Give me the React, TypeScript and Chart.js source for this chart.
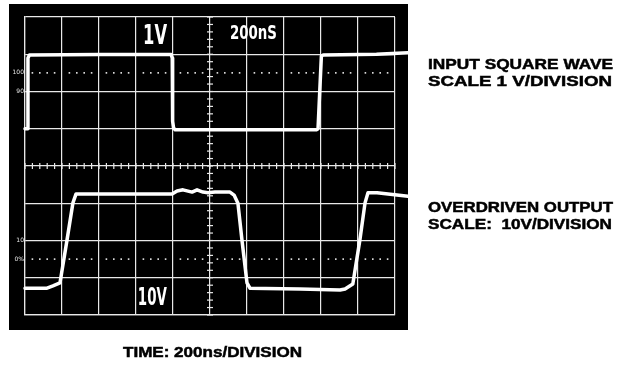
import React, { useEffect, useRef } from "react";
import { Chart, registerables } from "chart.js";

Chart.register(...registerables);

// Time axis: 200 ns per division, 10 divisions
const timeTicksNs = [0, 200, 400, 600, 800, 1000, 1200, 1400, 1600, 1800, 2000];
// Vertical: 8 divisions; input 1 V/div, output 10 V/div (relative to screen centre)
const inputTicksV = [-4, -3, -2, -1, 0, 1, 2, 3, 4];

// Input square wave (1 V/div)
const inputTimeNs = [0, 12, 16, 24, 400, 790, 796, 798, 803, 812, 1200, 1575, 1584, 1602, 1612, 1900, 2070];
const inputVolts = [1.0, 1.0, 2.9, 2.98, 2.99, 2.99, 2.9, 1.2, 1.02, 0.97, 0.97, 0.97, 1.0, 2.95, 2.98, 3.0, 3.04];

// Overdriven output (10 V/div)
const outputTimeNs = [0, 119, 151, 189, 227, 259, 276, 400, 600, 795, 822, 854, 903, 930, 962, 989, 1027, 1108, 1130, 1151, 1173, 1200, 1216, 1300, 1486, 1703, 1730, 1772, 1810, 1838, 1854, 1903, 2070];
const outputVolts = [-32.8, -32.8, -32.2, -31.4, -19.9, -9.9, -7.5, -7.5, -7.5, -7.5, -6.7, -6.4, -7.0, -6.4, -7.0, -7.2, -7.0, -7.0, -7.8, -10, -20, -31.4, -32.8, -32.9, -33.0, -33.3, -33.0, -31.7, -19.9, -9.9, -7.2, -7.2, -8.1];

// Reference-level marks on the graticule (in input-axis divisions)
const levelMarks = [2.5, -2.5];
const levelLabels = [
  { v: 2.5, t: "100" },
  { v: 2, t: "90" },
  { v: -2, t: "10" },
  { v: -2.5, t: "0%" },
];

const readouts = [
  { t: "1V", x: 3.19, y: 3.28, w: 24, font: 'bold 26px "DejaVu Sans"' },
  { t: "200nS", x: 5.54, y: 3.41, w: 47, font: 'bold 19px "DejaVu Sans"' },
  { t: "10V", x: 3.05, y: -3.73, w: 29, font: 'bold 25px "DejaVu Sans"' },
];

const sideLabels = [
  { t: "INPUT SQUARE WAVE", x: 428, y: 69, w: 185 },
  { t: "SCALE 1 V/DIVISION", x: 428, y: 86, w: 184 },
  { t: "OVERDRIVEN OUTPUT", x: 428, y: 212, w: 185 },
  { t: "SCALE:  10V/DIVISION", x: 428, y: 229, w: 184 },
  { t: "TIME: 200ns/DIVISION", x: 123, y: 357, w: 179 },
];

const scopePlugin = {
  id: "scope",
  beforeDraw(chart: any) {
    const { ctx, chartArea } = chart;
    ctx.save();
    ctx.fillStyle = "#000";
    ctx.fillRect(chartArea.left - 16, chartArea.top - 13, chartArea.right - chartArea.left + 29, chartArea.bottom - chartArea.top + 28);
    ctx.restore();
  },
  beforeDatasetsDraw(chart: any) {
    const { ctx } = chart;
    const xs = chart.scales.x;
    const ys = chart.scales.yIn;
    ctx.save();
    ctx.strokeStyle = "#e8e8e8";
    ctx.fillStyle = "#e8e8e8";
    ctx.lineWidth = 1.2;
    // minor ticks on centre lines
    const cx = xs.getPixelForValue(1000);
    const cy = ys.getPixelForValue(0);
    for (let t = 0; t <= 2000; t += 40) {
      const px = xs.getPixelForValue(t);
      ctx.beginPath();
      ctx.moveTo(px, cy - 3);
      ctx.lineTo(px, cy + 3);
      ctx.stroke();
    }
    for (let v = -4; v <= 4.001; v += 0.2) {
      const py = ys.getPixelForValue(v);
      ctx.beginPath();
      ctx.moveTo(cx - 3, py);
      ctx.lineTo(cx + 3, py);
      ctx.stroke();
    }
    // dotted level lines
    levelMarks.forEach((lv) => {
      const py = ys.getPixelForValue(lv);
      for (let t = 40; t < 2000; t += 40) {
        if (t % 200 === 0) continue;
        const px = xs.getPixelForValue(t);
        ctx.fillRect(px - 0.8, py - 0.8, 1.6, 1.6);
      }
    });
    // tiny level labels
    ctx.font = '6px "DejaVu Sans"';
    ctx.textAlign = "right";
    ctx.textBaseline = "middle";
    levelLabels.forEach((l) => {
      ctx.fillText(l.t, xs.getPixelForValue(0) - 1, ys.getPixelForValue(l.v));
    });
    // readouts
    ctx.fillStyle = "#fff";
    ctx.textAlign = "left";
    ctx.textBaseline = "alphabetic";
    readouts.forEach((r) => {
      ctx.font = r.font;
      const w = ctx.measureText(r.t).width;
      const px = xs.getPixelForValue(r.x * 200);
      const py = ys.getPixelForValue(r.y);
      ctx.save();
      ctx.translate(px, py);
      ctx.scale(r.w / w, 1);
      ctx.fillText(r.t, 0, 0);
      ctx.restore();
    });
    ctx.restore();
  },
  afterDraw(chart: any) {
    const { ctx } = chart;
    ctx.save();
    ctx.fillStyle = "#000";
    ctx.strokeStyle = "#000";
    ctx.lineWidth = 0.5;
    ctx.font = 'bold 15px "Liberation Sans"';
    ctx.textAlign = "left";
    ctx.textBaseline = "alphabetic";
    sideLabels.forEach((l) => {
      const w = ctx.measureText(l.t).width;
      ctx.save();
      ctx.translate(l.x, l.y);
      ctx.scale(l.w / w, 1);
      ctx.fillText(l.t, 0, 0);
      ctx.strokeText(l.t, 0, 0);
      ctx.restore();
    });
    ctx.restore();
  },
};

export default function App() {
  const ref = useRef<HTMLCanvasElement | null>(null);
  useEffect(() => {
    if (!ref.current) return;
    const chart = new Chart(ref.current, {
      type: "scatter",
      data: {
        datasets: [
          {
            label: "Input square wave",
            data: inputTimeNs.map((t, i) => ({ x: t, y: inputVolts[i] })),
            showLine: true,
            borderColor: "#ffffff",
            borderWidth: 3.5,
            pointRadius: 0,
            yAxisID: "yIn",
            clip: false as any,
            borderJoinStyle: "round",
            borderCapStyle: "round",
          },
          {
            label: "Overdriven output",
            data: outputTimeNs.map((t, i) => ({ x: t, y: outputVolts[i] })),
            showLine: true,
            borderColor: "#ffffff",
            borderWidth: 3.5,
            pointRadius: 0,
            yAxisID: "yOut",
            clip: false as any,
            borderJoinStyle: "round",
            borderCapStyle: "round",
          },
        ],
      },
      options: {
        responsive: false,
        animation: false,
        events: [],
        layout: { padding: { left: 25, top: 17, right: 224, bottom: 50 } },
        plugins: { legend: { display: false }, tooltip: { enabled: false } },
        scales: {
          x: {
            type: "linear",
            min: 0,
            max: 2000,
            afterBuildTicks: (s: any) => {
              s.ticks = timeTicksNs.map((v) => ({ value: v }));
            },
            ticks: { display: false },
            grid: { color: "#e8e8e8", lineWidth: 1.2, drawTicks: false },
            border: { color: "#e8e8e8", width: 1.2 },
          },
          yIn: {
            type: "linear",
            position: "left",
            min: -4,
            max: 4,
            afterBuildTicks: (s: any) => {
              s.ticks = inputTicksV.map((v) => ({ value: v }));
            },
            ticks: { display: false },
            grid: { color: "#e8e8e8", lineWidth: 1.2, drawTicks: false },
            border: { color: "#e8e8e8", width: 1.2 },
          },
          yOut: {
            type: "linear",
            position: "right",
            min: -40,
            max: 40,
            display: false,
          },
        },
      },
      plugins: [scopePlugin],
    });
    return () => chart.destroy();
  }, []);
  return (
    <div style={{ position: "absolute", left: 0, top: 0, width: 619, height: 365, background: "#fff" }}>
      <canvas ref={ref} width={619} height={365} style={{ display: "block" }} />
    </div>
  );
}
